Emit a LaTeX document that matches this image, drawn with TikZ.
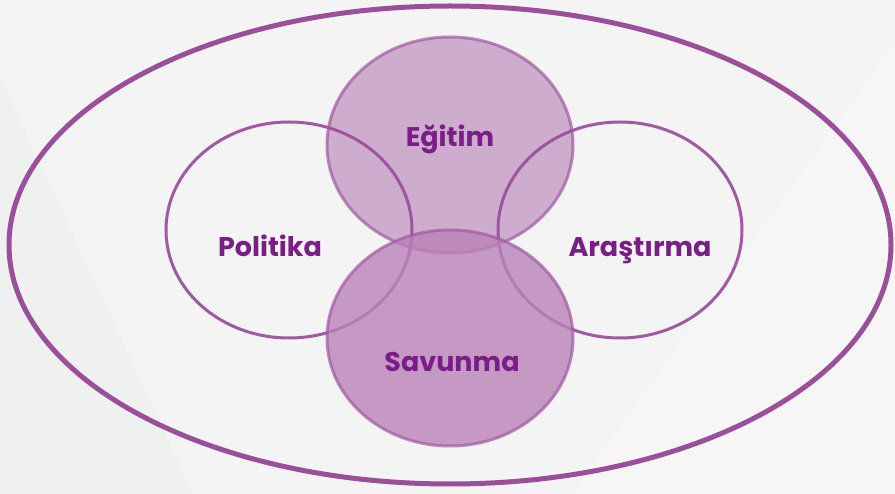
\documentclass[tikz,border=0pt]{standalone}
\usepackage{fontspec}
\setmainfont{Poppins}
\definecolor{bgbase}{HTML}{F4F4F4}
\definecolor{bgleft}{HTML}{EFF0F0}
\definecolor{bgright}{HTML}{F6F6F6}
\definecolor{ringline}{HTML}{9B4F9B}
\definecolor{circleline}{HTML}{A05AA2}
\definecolor{lowerfill}{HTML}{BB82B8}
\definecolor{labeltext}{HTML}{7A1E87}
\begin{document}
\begin{tikzpicture}[x=1pt,y=-1pt,
  ring/.style={draw=ringline,line width=5pt},
  openset/.style={draw=circleline,line width=3pt},
  filledset/.style={draw=circleline,line width=3pt,draw opacity=0.7},
  setlabel/.style={anchor=base,text=labeltext,font=\bfseries\fontsize{27}{30}\selectfont,inner sep=0pt}]
  % background and soft diagonal panels
  \fill[bgbase] (0,0) rectangle (895,494);
  \fill[bgleft] (0,77) -- (193,494) -- (0,494) -- cycle;
  \fill[bgright] (895,43) -- (572,494) -- (895,494) -- cycle;
  \useasboundingbox (0,0) rectangle (895,494);
  % enclosing ring
  \draw[ring] (450,245) ellipse [x radius=441, y radius=239];
  % side sets
  \draw[openset] (289,230) ellipse [x radius=123, y radius=108];
  \draw[openset] (620,230) ellipse [x radius=122, y radius=108];
  % top set, light and translucent
  \path[filledset,fill=ringline,fill opacity=0.43] (450,145) ellipse [x radius=123, y radius=108];
  % bottom set, denser
  \path[filledset,fill=lowerfill,fill opacity=0.8] (450,338) ellipse [x radius=123, y radius=108];
  % labels
  \node[setlabel] (egitim) at (450,147) {Eğitim};
  \node[setlabel] (politika) at (270,257) {Politika};
  \node[setlabel] (arastirma) at (640,257) {Araştırma};
  \node[setlabel] (savunma) at (452,372) {Savunma};
\end{tikzpicture}
\end{document}
